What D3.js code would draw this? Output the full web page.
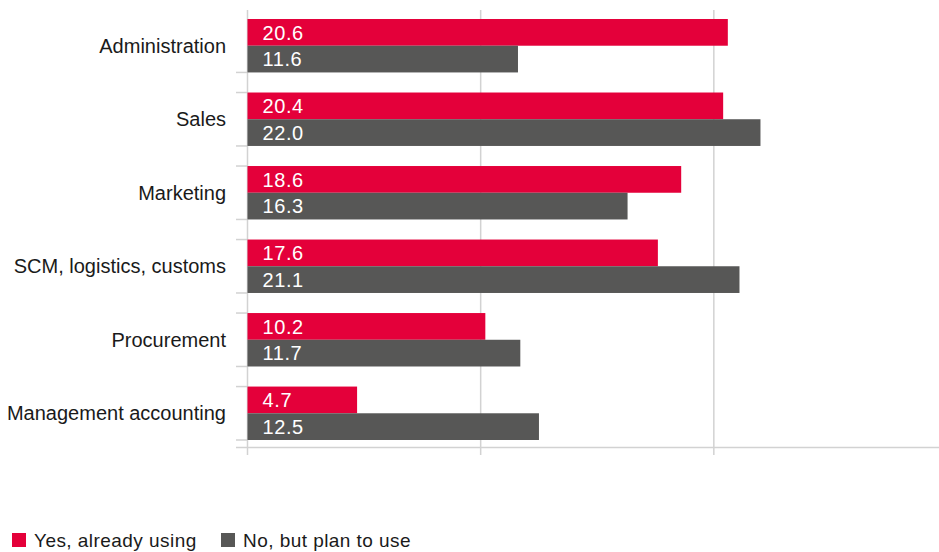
<!DOCTYPE html>
<html>
<head>
<meta charset="utf-8">
<script src="https://cdn.jsdelivr.net/npm/d3@7"></script>
<style>
  html, body { margin: 0; padding: 0; background: #ffffff; }
  svg { display: block; }
  text { font-family: "Liberation Sans", Arial, sans-serif; }
</style>
</head>
<body>
<svg id="chart" width="939" height="552"></svg>
<script>
// Share of respondents by business area
const categories = ["Administration", "Sales", "Marketing", "SCM, logistics, customs", "Procurement", "Management accounting"];
const seriesNames = ["Yes, already using", "No, but plan to use"];
const alreadyUsing = [20.6, 20.4, 18.6, 17.6, 10.2, 4.7];
const planToUse = [11.6, 22.0, 16.3, 21.1, 11.7, 12.5];
const gridValues = [0, 10, 20, 30];

const colors = ["#e4003a", "#575756"];
const gridColor = "#d2d2d2";

const width = 939, height = 552;
const svg = d3.select("#chart");

const x = d3.scaleLinear().domain([0, 30]).range([247.5, 947]);
const y = d3.scaleBand().domain(categories).range([19, 440]).paddingInner(0.273).paddingOuter(0);
const ySeries = d3.scaleBand().domain(seriesNames).range([0, y.bandwidth()]).padding(0);

const rows = categories.map((c, i) => ({ category: c, values: [alreadyUsing[i], planToUse[i]] }));

// vertical gridlines (the zero line doubles as the category axis)
svg.append("g").selectAll("line").data(gridValues).join("line")
  .attr("x1", d => x(d)).attr("x2", d => x(d))
  .attr("y1", 10).attr("y2", 455)
  .attr("stroke", gridColor).attr("stroke-width", 1.5);

// bottom axis line
svg.append("line")
  .attr("x1", 236).attr("x2", width)
  .attr("y1", 447.5).attr("y2", 447.5)
  .attr("stroke", gridColor).attr("stroke-width", 1.5);

// category boundary ticks at the top and bottom of each group
const tickYs = [];
categories.forEach((c, i) => {
  if (i > 0) tickYs.push(y(c));
  tickYs.push(y(c) + y.bandwidth());
});
svg.append("g").selectAll("line").data(tickYs).join("line")
  .attr("x1", 236).attr("x2", x(0))
  .attr("y1", d => d).attr("y2", d => d)
  .attr("stroke", gridColor).attr("stroke-width", 1.5);

// bars
const groups = svg.append("g").selectAll("g").data(rows).join("g")
  .attr("transform", d => `translate(0,${y(d.category)})`);

groups.selectAll("rect").data(d => d.values.map((v, k) => ({ v, k }))).join("rect")
  .attr("x", x(0))
  .attr("y", d => ySeries(seriesNames[d.k]))
  .attr("width", d => x(d.v) - x(0))
  .attr("height", ySeries.bandwidth())
  .attr("fill", d => colors[d.k]);

groups.selectAll("text.value").data(d => d.values.map((v, k) => ({ v, k }))).join("text")
  .attr("class", "value")
  .attr("x", x(0) + 15)
  .attr("y", d => ySeries(seriesNames[d.k]) + ySeries.bandwidth() / 2)
  .attr("dy", "0.36em")
  .attr("fill", "#ffffff")
  .attr("font-size", 20)
  .attr("letter-spacing", 0.6)
  .text(d => d3.format(".1f")(d.v));

// category labels
svg.append("g").selectAll("text").data(categories).join("text")
  .attr("x", 226)
  .attr("y", d => y(d) + y.bandwidth() / 2)
  .attr("dy", "0.36em")
  .attr("text-anchor", "end")
  .attr("fill", "#1a1a1a")
  .attr("font-size", 20)
  .text(d => d);

// legend
const legendX = [12, 221];
const legend = svg.append("g").selectAll("g").data(seriesNames).join("g")
  .attr("transform", (d, i) => `translate(${legendX[i]},533)`);
legend.append("rect")
  .attr("width", 14).attr("height", 14)
  .attr("fill", (d, i) => colors[i]);
legend.append("text")
  .attr("x", 22).attr("y", 13.5)
  .attr("fill", "#1a1a1a")
  .attr("font-size", 19)
  .attr("letter-spacing", 0.45)
  .text(d => d);
</script>
</body>
</html>
